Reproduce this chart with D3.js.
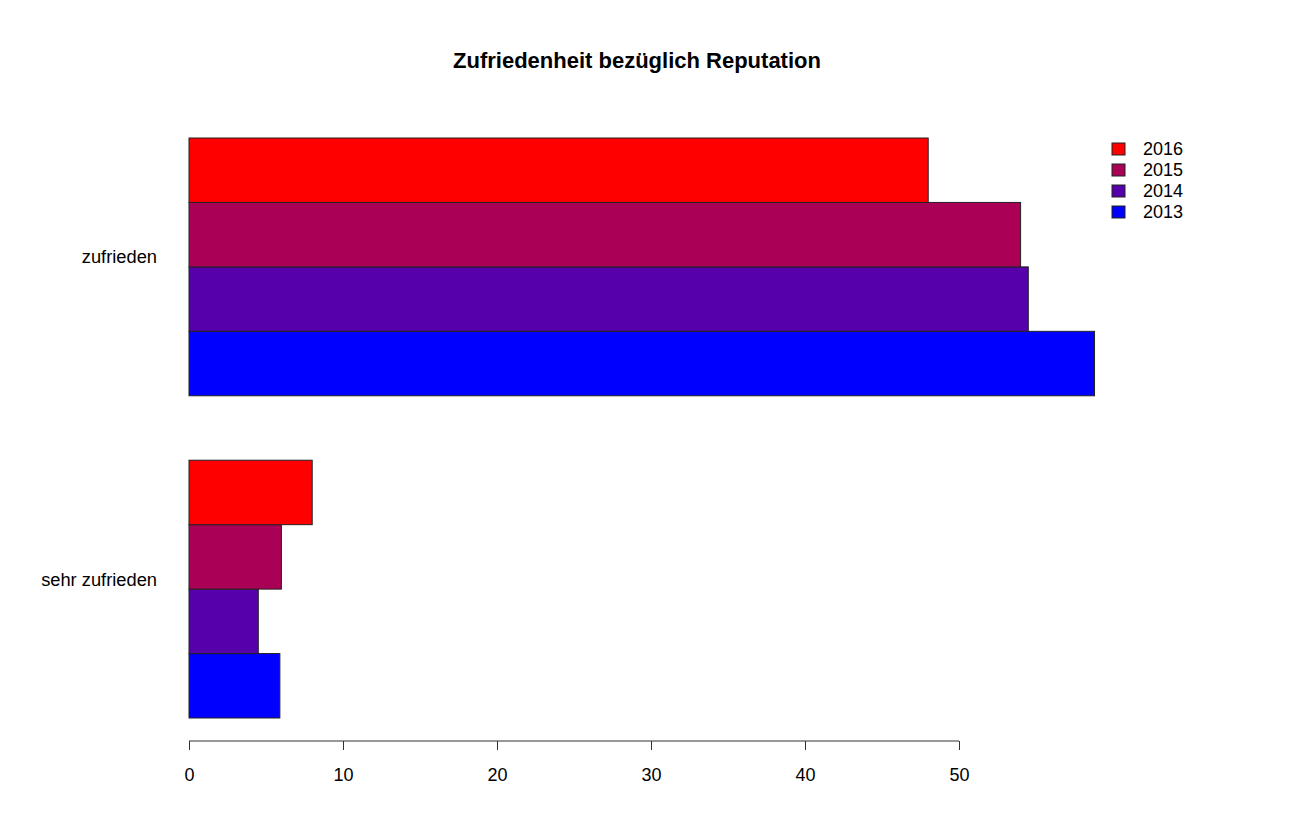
<!DOCTYPE html>
<html><head><meta charset="utf-8">
<script src="https://cdn.jsdelivr.net/npm/d3@7"></script>
<style>body{margin:0;background:#fff;}text{font-family:"Liberation Sans",Arial,sans-serif;}</style>
</head><body>
<script>
const title = "Zufriedenheit bezüglich Reputation";
const categories = ["sehr zufrieden", "zufrieden"]; // bottom to top
const years = ["2013", "2014", "2015", "2016"];     // bottom to top within group
const colors = ["#0000FF", "#5500AA", "#AA0055", "#FF0000"];
const values2013 = [5.9, 58.8];
const values2014 = [4.5, 54.5];
const values2015 = [6.0, 54.0];
const values2016 = [8.0, 48.0];
const xTicks = [0, 10, 20, 30, 40, 50];
const legendYears = ["2016", "2015", "2014", "2013"];
const legendColors = ["#FF0000", "#AA0055", "#5500AA", "#0000FF"];

const series = [values2013, values2014, values2015, values2016];
const W = 1299, H = 817;
const svg = d3.select("body").append("svg").attr("width", W).attr("height", H);
svg.append("rect").attr("width", W).attr("height", H).attr("fill", "#fff");

const x = d3.scaleLinear().domain([0, 50]).range([189, 959]);
// slot units as in R barplot (space=c(0,1)): group g bar i occupies [1+5g+i, 2+5g+i]
const y = d3.scaleLinear().domain([1, 10]).range([718, 138]);

const bars = [];
categories.forEach((c, g) => {
  series.forEach((vals, i) => {
    bars.push({g, i, v: vals[g], lo: 1 + 5 * g + i, hi: 2 + 5 * g + i});
  });
});
svg.append("g").selectAll("rect").data(bars).join("rect")
  .attr("x", x(0))
  .attr("y", d => y(d.hi))
  .attr("width", d => x(d.v) - x(0))
  .attr("height", d => y(d.lo) - y(d.hi))
  .attr("fill", d => colors[d.i])
  .attr("stroke", "#222")
  .attr("stroke-width", 1);

// category labels
svg.append("g").selectAll("text").data(categories).join("text")
  .attr("x", 157)
  .attr("y", (d, g) => y(3 + 5 * g) - 10)
  .attr("text-anchor", "end")
  .attr("dominant-baseline", "central")
  .attr("font-size", 18.3)
  .attr("fill", "#000")
  .text(d => d);

// x axis
const axis = d3.axisBottom(x).tickValues(xTicks).tickSize(9).tickPadding(0).tickFormat(d3.format("d"));
const ax = svg.append("g").attr("transform", "translate(0,741)").call(axis);
ax.select(".domain").attr("stroke", "#333").attr("d", `M${x(0)},0H${x(50)}`);
ax.selectAll(".tick line").attr("stroke", "#333");
ax.selectAll(".tick text").attr("font-size", 18).attr("fill", "#000")
  .attr("y", 34).attr("dy", null).attr("dominant-baseline", "central")
  .attr("font-family", "Liberation Sans, Arial, sans-serif");

// title
svg.append("text").attr("x", 637).attr("y", 60).attr("text-anchor", "middle")
  .attr("dominant-baseline", "central").attr("font-weight", "bold").attr("font-size", 22)
  .attr("fill", "#000").text(title);

// legend
const lg = svg.append("g").selectAll("g").data(legendYears).join("g")
  .attr("transform", (d, i) => `translate(1112,${149 + i * 21})`);
lg.append("rect").attr("x", 0).attr("y", -6).attr("width", 13).attr("height", 12)
  .attr("fill", (d, i) => legendColors[i]).attr("stroke", "#222").attr("stroke-width", 1);
lg.append("text").attr("x", 31).attr("y", 0).attr("dominant-baseline", "central")
  .attr("font-size", 18).attr("fill", "#000").text(d => d);
</script>
</body></html>
